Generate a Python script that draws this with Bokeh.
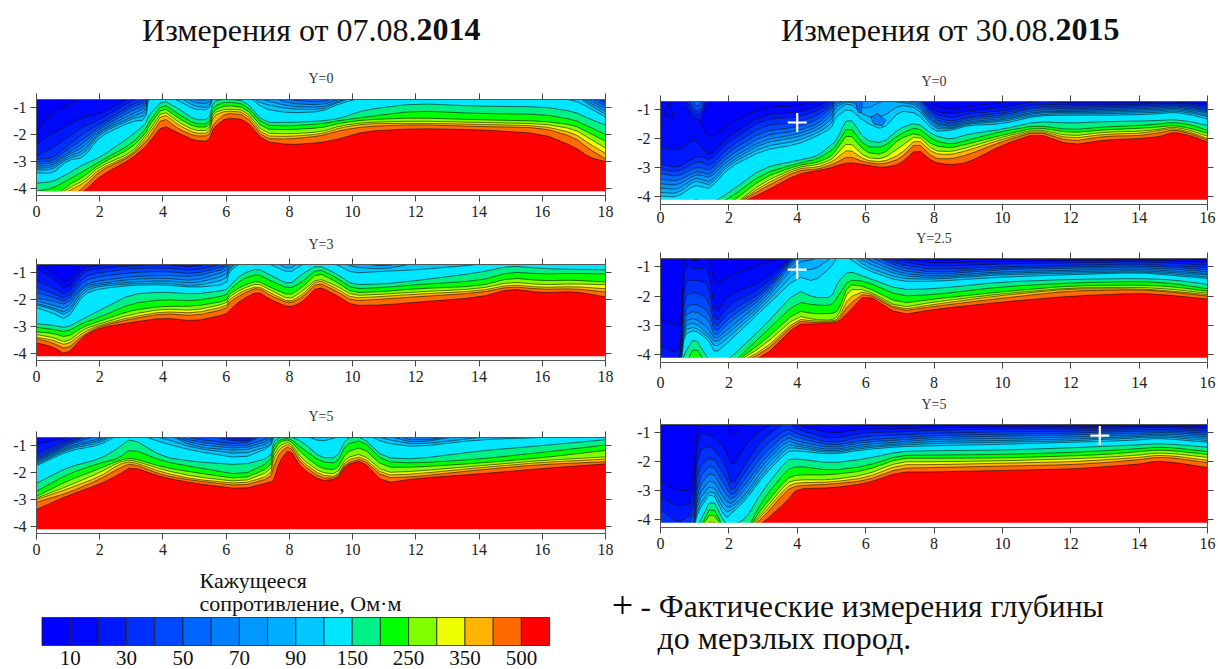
import numpy as np
from bokeh.embed import file_html
from bokeh.resources import INLINE
from bokeh.plotting import figure
from bokeh.layouts import column, row
from bokeh.models import Range1d, LinearAxis, FixedTicker
from bokeh.core.properties import value

LEVELS = [10, 20, 30, 40, 50, 60, 70, 80, 90, 100, 150, 200, 250, 300, 350, 400, 500]
COLORS = ["#0000ff", "#0008fb", "#0018ff", "#0030ff", "#0048ff", "#0064ff", "#0080ff", "#0098ff", "#00aeff",
          "#00c8ff", "#00e6ff", "#00f088", "#00ff00", "#80ff00", "#f0ff00", "#ffb400", "#ff6a00", "#ff0000"]
LEGEND_TICKS = [10, 30, 50, 70, 90, 150, 250, 350, 500]
SERIF = "Liberation Serif"

# depth of each contour level (same order as LEVELS) at each x knot; short rows continue below the section
L0_X = [0, .5, 1, 1.5, 2, 3, 3.45, 3.55, 4, 4.5, 5, 5.45, 5.6, 6, 6.6, 7.2, 8, 9, 9.6, 10.4, 12, 14, 16, 17, 17.5, 18]
L0_Z = [
 [1.9,2.35,2.8,2.92,3.02,3.1,3.18,3.25,3.32,3.42,3.8,4.1],
 [1.15,1.98,2.5,2.88,2.98,3.06,3.14,3.22,3.3,3.45,3.75,4.0],
 [.9,1.65,2.1,2.4,2.55,2.68,2.75,2.82,2.88,2.95,3.45,3.68,3.88,4.0,4.1],
 [.6,1.35,1.7,1.95,2.15,2.3,2.45,2.6,2.72,2.85,3.1,3.35,3.55,3.7,3.8,3.95,4.12],
 [.5,1.25,1.45,1.6,1.7,1.78,1.85,1.9,1.97,2.07,2.85,3.0,3.1,3.18,3.27,3.35,3.55],
 [.5,.6,.75,.9,1.0,1.12,1.25,1.35,1.42,1.52,2.05,2.35,2.5,2.68,2.75,2.8,2.9],
 [.5,.5,.6,.7,.8,.9,1.0,1.15,1.3,1.45,1.6,1.8,1.95,2.05,2.15,2.27,2.45],
 [.5,.5,.5,.5,.5,.5,.5,.5,.5,.62,1.3,1.55,1.7,1.88,2.0,2.15,2.3],
 [.5,.5,.5,.5,.5,.5,.5,.5,.5,.5,.72,.85,.98,1.1,1.2,1.35,1.65],
 [.5,.5,.5,.5,.5,.5,.5,.5,.6,.75,1.05,1.25,1.4,1.55,1.65,1.8,1.95],
 [.5,.5,.5,.5,.5,.6,.72,.82,.95,1.07,1.45,1.6,1.72,1.85,1.95,2.05,2.22],
 [.5,.5,.5,.5,.5,.6,.72,.85,1.0,1.08,1.45,1.6,1.72,1.85,1.95,2.05,2.25],
 [.5,.5,.5,.5,.5,.5,.5,.5,.5,.6,.75,.95,1.1,1.2,1.3,1.6,1.75],
 [.5,.5,.5,.5,.5,.5,.5,.5,.5,.5,.68,.78,.92,1.05,1.12,1.2,1.38],
 [.5,.5,.5,.5,.5,.5,.5,.5,.5,.5,.75,.88,1.0,1.1,1.18,1.28,1.45],
 [.5,.5,.5,.5,.5,.5,.5,.72,.88,1.05,1.55,1.65,1.8,1.95,2.05,2.15,2.25],
 [.5,.5,.5,.5,.5,.72,.85,.95,1.05,1.2,1.55,1.68,1.82,1.98,2.07,2.17,2.38],
 [.5,.5,.5,.5,.7,.8,.9,1.0,1.08,1.15,1.5,1.6,1.75,1.9,1.98,2.05,2.3],
 [.5,.5,.5,.5,.5,.6,.68,.74,.78,.85,1.4,1.48,1.58,1.68,1.75,1.85,2.15],
 [.5,.5,.5,.5,.5,.5,.5,.5,.5,.6,1.08,1.35,1.45,1.55,1.6,1.7,1.88],
 [.5,.5,.5,.5,.5,.5,.5,.5,.5,.6,.85,1.12,1.38,1.5,1.58,1.63,1.78],
 [.5,.5,.5,.5,.5,.5,.5,.5,.5,.6,.95,1.22,1.45,1.55,1.62,1.7,1.82],
 [.5,.5,.5,.5,.5,.5,.5,.5,.5,.6,.97,1.25,1.5,1.6,1.68,1.75,1.97],
 [.5,.5,.5,.5,.5,.5,.5,.5,.5,.72,1.15,1.45,1.65,1.8,1.95,2.1,2.45],
 [.5,.5,.5,.5,.5,.62,.72,.82,.9,1.02,1.42,1.72,1.95,2.15,2.35,2.55,2.85],
 [.5,.5,.5,.75,.85,.95,1.05,1.15,1.25,1.35,1.65,2.0,2.25,2.5,2.7,2.9,3.0],
]

L1_X = [0, .5, .95, 1.5, 2, 3, 4, 5, 6, 6.1, 6.5, 7, 7.4, 8, 8.4, 8.9, 9.5, 10, 11, 12, 14, 15, 16, 17, 18]
L1_Z = [
 [.6,.85,1.3,1.55,1.75,1.95,2.05,2.15,2.2,2.3,2.9,3.03,3.2,3.3,3.4,3.45,3.6],
 [.95,1.2,1.55,1.75,1.9,2.05,2.2,2.3,2.35,2.5,2.95,3.1,3.25,3.4,3.5,3.6,3.75],
 [1.45,1.65,1.85,2.0,2.1,2.2,2.35,2.5,2.6,2.75,3.05,3.2,3.4,3.6,3.7,3.85,4.05],
 [.55,.8,.95,1.15,1.3,1.45,1.5,1.6,1.7,1.8,2.7,2.85,3.0,3.1,3.2,3.3,3.35],
 [.5,.72,.85,1.0,1.15,1.3,1.4,1.45,1.5,1.6,2.4,2.65,2.8,2.9,2.95,3.0,3.05],
 [.5,.5,.75,.85,1.0,1.15,1.25,1.35,1.42,1.47,1.8,2.15,2.4,2.55,2.65,2.72,2.85],
 [.5,.5,.7,.82,.95,1.1,1.2,1.3,1.38,1.45,1.72,2.0,2.25,2.35,2.45,2.52,2.68],
 [.5,.72,.8,.92,1.05,1.15,1.3,1.4,1.5,1.55,1.8,2.05,2.25,2.4,2.5,2.6,2.8],
 [.5,.5,.5,.65,.75,.85,.95,1.1,1.25,1.45,1.65,1.85,2.05,2.15,2.25,2.35,2.55],
 [.5,.5,.5,.5,.5,.5,.7,.8,.85,.95,1.5,1.65,1.8,1.9,2.0,2.1,2.4],
 [.5,.5,.5,.5,.5,.5,.5,.5,.5,.6,1.05,1.25,1.5,1.6,1.7,1.8,2.0],
 [.5,.5,.5,.5,.5,.5,.5,.5,.5,.5,.85,1.05,1.3,1.4,1.5,1.55,1.7],
 [.5,.5,.5,.5,.5,.5,.5,.5,.5,.7,1.1,1.3,1.55,1.65,1.75,1.85,2.0],
 [.5,.5,.5,.5,.5,.5,.6,.75,.9,1.02,1.45,1.6,1.85,2.0,2.1,2.15,2.3],
 [.5,.5,.5,.5,.5,.5,.5,.5,.5,.7,1.05,1.35,1.55,1.7,1.82,1.92,2.1],
 [.5,.5,.5,.5,.5,.5,.5,.5,.5,.5,.72,.85,1.0,1.2,1.25,1.35,1.5],
 [.5,.5,.5,.5,.5,.5,.5,.5,.5,.7,1.05,1.2,1.35,1.5,1.6,1.7,1.85],
 [.5,.5,.5,.5,.5,.5,.5,.6,.8,1.02,1.45,1.6,1.75,1.85,1.95,2.05,2.22],
 [.5,.5,.5,.5,.5,.6,.7,.78,.87,.95,1.42,1.55,1.7,1.8,1.88,1.98,2.2],
 [.5,.5,.5,.5,.5,.5,.5,.5,.65,.9,1.3,1.45,1.6,1.72,1.8,1.9,2.1],
 [.5,.5,.5,.5,.5,.5,.5,.5,.5,.7,1.0,1.3,1.5,1.6,1.68,1.75,1.92],
 [.5,.5,.5,.5,.5,.5,.5,.5,.5,.55,.75,.98,1.2,1.35,1.45,1.52,1.6],
 [.5,.5,.5,.5,.5,.5,.5,.5,.5,.55,.85,1.05,1.3,1.45,1.55,1.62,1.75],
 [.5,.5,.5,.5,.5,.5,.5,.5,.5,.55,.88,1.03,1.28,1.42,1.52,1.6,1.7],
 [.5,.5,.5,.5,.5,.5,.5,.5,.5,.6,.9,1.05,1.35,1.45,1.6,1.72,1.9],
]

L2_X = [0, 1, 2, 2.6, 3, 4, 5, 6.5, 7.4, 7.5, 7.7, 8, 8.4, 9, 9.5, 9.8, 10.3, 11, 12, 14, 16, 18]
L2_Z = [
 [.6,.95,1.3,1.42,1.5,1.55,1.6,1.65,1.7,1.75,2.4,2.7,2.88,2.95,3.0,3.1,3.37],
 [.5,.7,.78,.85,.92,.97,1.03,1.08,1.13,1.2,1.8,2.05,2.3,2.5,2.6,2.75,2.85],
 [.5,.5,.5,.5,.5,.6,.75,.82,.9,.98,1.5,1.65,1.85,2.0,2.15,2.25,2.43],
 [.5,.5,.5,.5,.5,.5,.5,.5,.5,.6,1.08,1.47,1.55,1.62,1.7,1.85,2.08],
 [.5,.5,.5,.5,.5,.5,.5,.5,.5,.5,.72,1.12,1.45,1.52,1.58,1.65,1.78],
 [.5,.5,.5,.5,.5,.5,.5,.5,.72,.9,1.42,1.58,1.8,1.9,2.0,2.1,2.18],
 [.5,.5,.5,.5,.75,.85,.95,1.05,1.1,1.2,1.6,1.8,2.0,2.15,2.25,2.3,2.4],
 [.5,.72,.82,.9,.97,1.05,1.12,1.2,1.32,1.48,1.72,2.1,2.25,2.35,2.42,2.5,2.62],
 [.5,.5,.5,.5,.5,.7,.8,.9,1.0,1.05,1.45,1.6,1.8,1.95,2.1,2.2,2.35],
 [.5,.5,.5,.5,.5,.5,.5,.5,.6,.72,.85,1.0,1.2,1.35,1.5,1.8,2.3],
 [.5,.5,.5,.5,.5,.5,.5,.5,.5,.6,.7,.78,.85,1.0,1.1,1.25,1.55],
 [.5,.5,.5,.5,.5,.5,.5,.5,.5,.55,.65,.72,.78,.85,.92,1.0,1.12],
 [.5,.5,.5,.5,.5,.5,.5,.5,.5,.6,.85,1.1,1.3,1.5,1.6,1.7,1.85],
 [.5,.5,.5,.5,.5,.5,.5,.5,.72,.85,1.45,1.6,1.85,2.0,2.1,2.2,2.3],
 [.5,.5,.5,.5,.5,.5,.5,.5,.5,.7,1.45,1.65,1.9,2.05,2.15,2.2,2.25],
 [.5,.5,.5,.5,.5,.5,.5,.5,.5,.5,.72,.95,1.25,1.45,1.55,1.65,1.72],
 [.5,.5,.5,.5,.5,.5,.5,.5,.5,.5,.68,.8,1.05,1.3,1.4,1.48,1.55],
 [.5,.5,.5,.5,.5,.5,.5,.6,.75,.9,1.45,1.6,1.8,2.0,2.1,2.2,2.4],
 [.5,.5,.5,.5,.7,.75,.85,.92,.97,1.05,1.5,1.65,1.8,1.95,2.05,2.15,2.22],
 [.5,.5,.5,.5,.5,.5,.5,.5,.7,.78,1.2,1.5,1.65,1.75,1.82,1.9,2.05],
 [.5,.5,.5,.5,.5,.5,.5,.5,.5,.7,1.0,1.25,1.45,1.55,1.62,1.7,1.85],
 [.5,.5,.5,.5,.5,.5,.5,.5,.5,.6,.78,.98,1.18,1.42,1.5,1.6,1.68],
]

R0_X = [0, .5, 1, 1.2, 1.45, 2, 3, 4, 4.6, 5, 5.1, 5.5, 6, 6.5, 7, 7.5, 8, 8.5, 9, 10, 11, 12, 13, 14, 14.6, 15, 15.5, 16]
R0_Z = [
 [.5,2.3,2.88,3.05,3.2,3.4,3.55,3.7,3.85,3.97],
 [.5,2.42,3.0,3.15,3.3,3.45,3.6,3.75,3.88,4.0],
 [.5,2.0,2.65,2.82,3.0,3.15,3.25,3.35,3.45,3.6,4.08],
 [1.6,2.3,2.62,2.8,3.0,3.15,3.25,3.4,3.5,3.65,4.15],
 [2.0,2.6,2.75,2.95,3.1,3.25,3.35,3.5,3.6,3.72,4.25],
 [1.5,1.9,2.1,2.3,2.45,2.6,2.72,2.82,2.9,3.0,3.85,4.05,4.25],
 [.93,1.2,1.35,1.55,1.75,1.9,2.05,2.15,2.28,2.4,3.0,3.2,3.35,3.5,3.6,3.7,3.85],
 [.88,1.1,1.27,1.45,1.6,1.73,1.85,1.95,2.08,2.2,2.75,2.85,2.92,2.98,3.03,3.1,3.22],
 [.7,.9,1.05,1.2,1.35,1.5,1.6,1.7,1.8,1.9,2.6,2.7,2.82,2.9,2.98,3.05,3.1],
 [.5,.65,.75,.85,.95,1.05,1.2,1.35,1.5,1.65,2.2,2.4,2.6,2.72,2.8,2.9,3.0],
 [.5,.5,.55,.6,.7,.75,.85,.95,1.1,1.3,2.15,2.3,2.45,2.6,2.72,2.85,2.95],
 [.5,.5,.5,.5,.55,.6,.65,.7,.75,.95,1.22,1.55,1.8,2.1,2.35,2.6,2.82],
 [.5,.5,.5,.5,.5,.5,.5,1.0,1.25,1.45,2.07,2.28,2.47,2.65,2.75,2.82,2.9],
 [.5,.5,.5,.5,.5,.5,.5,.7,1.25,1.7,2.15,2.3,2.55,2.7,2.8,2.88,3.0],
 [.5,.5,.5,.5,.5,.5,.7,.75,.85,1.05,1.65,1.85,2.0,2.3,2.55,2.7,2.88],
 [.5,.5,.5,.5,.6,.7,.78,.85,.95,1.13,1.45,1.6,1.8,1.87,2.0,2.12,2.35],
 [.85,1.05,1.15,1.25,1.35,1.45,1.5,1.58,1.65,1.75,1.9,2.07,2.25,2.42,2.52,2.68,2.82],
 [1.0,1.15,1.3,1.42,1.5,1.56,1.6,1.65,1.68,1.72,2.03,2.2,2.32,2.45,2.55,2.7,2.9],
 [.9,1.05,1.15,1.25,1.3,1.36,1.42,1.46,1.5,1.55,1.85,2.05,2.18,2.3,2.4,2.55,2.82],
 [.75,.93,1.05,1.13,1.2,1.26,1.32,1.37,1.42,1.5,1.68,1.75,1.88,1.95,2.02,2.1,2.22],
 [.6,.72,.82,.9,.95,1.02,1.08,1.12,1.18,1.22,1.42,1.55,1.62,1.68,1.72,1.75,1.82],
 [.7,.78,.85,.92,.98,1.03,1.07,1.1,1.15,1.2,1.47,1.7,1.8,1.92,2.0,2.1,2.22],
 [.7,.78,.85,.9,.95,1.0,1.05,1.1,1.15,1.2,1.42,1.6,1.7,1.78,1.85,1.92,2.05],
 [.7,.78,.83,.88,.93,.98,1.02,1.07,1.12,1.18,1.4,1.55,1.65,1.75,1.82,1.9,2.0],
 [.68,.75,.8,.85,.9,.95,1.0,1.05,1.1,1.15,1.38,1.5,1.6,1.68,1.72,1.8,1.93],
 [.7,.75,.8,.85,.88,.92,.96,1.0,1.05,1.1,1.35,1.45,1.55,1.6,1.65,1.7,1.78],
 [.72,.78,.82,.87,.92,.97,1.02,1.07,1.12,1.18,1.42,1.52,1.65,1.72,1.78,1.83,1.9],
 [.75,.82,.9,.97,1.03,1.08,1.13,1.2,1.25,1.33,1.55,1.72,1.82,1.92,2.0,2.05,2.12],
]

R1_X = [0, .5, .6, .7, 1, 1.4, 1.6, 2, 3, 4, 4.5, 5, 5.2, 5.5, 6, 7, 8, 10, 12, 14, 15, 16]
R1_Z = [
 [2.8,3.7],
 [3.0,3.95],
 [3.0,3.6,3.8,3.9,4.0,4.1],
 [.5,.9,1.5,2.0,2.4,2.65,2.85,3.0,3.15,3.3,3.95],
 [.85,1.1,1.45,1.85,2.25,2.5,2.75,2.9,3.05,3.15,3.4,3.7,4.1],
 [.55,1.0,1.55,2.1,2.5,2.8,3.1,3.3,3.4,3.5,4.15],
 [1.65,2.65,2.95,3.1,3.27,3.4,3.5,3.6,3.75,3.95],
 [1.3,1.95,2.3,2.55,2.75,2.9,3.1,3.25,3.4,3.55,4.15],
 [.9,1.5,1.7,1.85,1.95,2.05,2.15,2.25,2.35,2.45,3.05,3.3,3.55,3.7,3.85,3.95,4.1],
 [.5,.5,.5,.5,.55,.6,.7,.85,1.1,1.33,1.8,2.2,2.5,2.67,2.78,2.85,2.95],
 [.5,.5,.5,.5,.5,.5,.5,.75,1.1,1.5,2.05,2.3,2.6,2.8,2.85,2.9,2.95],
 [.5,.5,.5,.5,.5,.5,.5,.5,.7,1.0,2.05,2.32,2.6,2.82,2.85,2.88,2.92],
 [.5,.5,.5,.5,.5,.5,.5,.5,.5,.6,1.5,2.0,2.5,2.68,2.78,2.83,2.88],
 [.5,.5,.5,.5,.5,.5,.5,.5,.5,.7,1.15,1.45,1.6,1.78,2.05,2.3,2.55],
 [.5,.5,.5,.5,.5,.6,.72,.85,1.0,1.1,1.35,1.5,1.68,1.78,1.82,1.87,1.92],
 [.5,.72,.82,.92,1.02,1.12,1.22,1.3,1.4,1.5,1.78,2.0,2.25,2.4,2.47,2.52,2.65],
 [.77,.88,1.0,1.1,1.2,1.27,1.33,1.38,1.43,1.5,1.75,1.95,2.1,2.2,2.28,2.35,2.45],
 [.73,.82,.9,1.0,1.05,1.1,1.17,1.22,1.27,1.35,1.52,1.68,1.85,1.92,1.97,2.07,2.2],
 [.73,.8,.87,.95,1.0,1.05,1.12,1.17,1.22,1.27,1.43,1.55,1.65,1.72,1.75,1.82,2.0],
 [.73,.77,.83,.9,.97,1.03,1.08,1.13,1.17,1.2,1.4,1.5,1.62,1.7,1.75,1.78,1.9],
 [.73,.8,.88,.97,1.02,1.08,1.15,1.2,1.25,1.3,1.45,1.57,1.68,1.77,1.83,1.87,1.98],
 [.77,.85,.95,1.03,1.1,1.17,1.23,1.28,1.35,1.4,1.6,1.75,1.83,1.9,1.95,2.0,2.1],
]

R2_X = [0, .5, .95, 1.1, 1.5, 1.9, 2.1, 2.5, 3, 3.7, 4, 5, 6, 7, 8, 10, 12, 13, 14, 14.5, 15, 16]
R2_Z = [
 [2.65,3.2,3.65],
 [3.0,3.55,4.1],
 [2.95,3.42,3.8,4.05],
 [.5,1.0,1.6,2.2,2.6,2.9,3.15,3.35,3.55,3.7,4.2],
 [.75,1.1,1.45,1.8,2.05,2.3,2.55,2.75,2.9,3.0,3.23,3.48,3.72,4.0],
 [.6,1.55,2.1,2.5,2.85,3.1,3.35,3.55,3.75,3.95,4.15],
 [1.15,2.2,2.85,3.05,3.2,3.32,3.45,3.55,3.65,3.75,4.2],
 [.6,1.4,2.05,2.3,2.55,2.75,2.9,3.1,3.2,3.3,3.95],
 [.55,.85,1.2,1.5,1.75,1.95,2.1,2.25,2.4,2.5,2.97,3.3,3.55,3.7,3.8,3.92,4.1],
 [.5,.5,.6,.85,1.0,1.15,1.27,1.4,1.52,1.65,1.93,2.28,2.57,2.72,2.85,2.97,3.35],
 [.5,.75,.9,1.05,1.17,1.3,1.4,1.47,1.53,1.62,1.9,2.15,2.45,2.62,2.72,2.82,2.92],
 [.72,1.03,1.22,1.37,1.45,1.53,1.6,1.65,1.7,1.75,2.05,2.3,2.45,2.62,2.7,2.77,2.9],
 [.75,.87,1.0,1.12,1.25,1.32,1.4,1.47,1.52,1.58,1.9,2.15,2.3,2.45,2.55,2.65,2.75],
 [.77,.87,.97,1.08,1.18,1.25,1.32,1.38,1.43,1.48,1.65,1.78,1.88,2.0,2.1,2.22,2.35],
 [.75,.83,.92,1.02,1.1,1.17,1.23,1.3,1.37,1.45,1.62,1.77,1.88,2.0,2.1,2.2,2.35],
 [.73,.8,.88,.97,1.05,1.12,1.2,1.27,1.33,1.4,1.6,1.75,1.87,1.97,2.05,2.15,2.3],
 [.73,.8,.87,.95,1.02,1.08,1.15,1.22,1.28,1.33,1.52,1.68,1.8,1.9,2.0,2.1,2.25],
 [.73,.78,.85,.92,.98,1.05,1.12,1.18,1.23,1.3,1.47,1.62,1.75,1.85,1.93,2.03,2.17],
 [.73,.78,.84,.9,.96,1.02,1.08,1.13,1.18,1.25,1.42,1.55,1.65,1.77,1.85,1.93,2.08],
 [.73,.78,.83,.89,.94,1.0,1.05,1.1,1.15,1.2,1.38,1.5,1.6,1.7,1.78,1.85,1.98],
 [.73,.78,.83,.9,.95,1.0,1.06,1.12,1.17,1.23,1.4,1.52,1.62,1.72,1.8,1.87,2.02],
 [.75,.82,.88,.95,1.02,1.08,1.14,1.2,1.27,1.33,1.5,1.65,1.75,1.85,1.95,2.03,2.2],
]

# closed pockets in the 2015 Y=0 section: colour band, x, depth
R0_POCKETS = [
 (1, [.1, .27, .37], [1.16, .73, 1.27]),
 (2, [.68, .83, .93, 1.17, 1.27, 1.39], [.73, 1.05, 1.27, 1.37, 1.05, .73]),
 (3, [.78, .9, 1.02, 1.17, 1.25, 1.32], [.73, 1.0, 1.16, 1.16, .94, .73]),
 (4, [.86, .98, 1.09, 1.22, 1.27], [.73, 1.0, 1.07, .94, .73]),
 (5, [.96, 1.02, 1.15, 1.2], [.73, .87, .87, .73]),
 (5, [5.7, 5.78, 5.88, 5.9], [.73, 1.1, 1.1, .73]),
 (6, [6.15, 6.34, 6.59, 6.49, 6.24], [1.27, 1.14, 1.37, 1.56, 1.5]),
]

# measured depths to frozen ground
R0_MEAS = (4, 1.45)
R1_MEAS = (4, 1.1)
R2_MEAS = (12.85, 1.1)


def rounded(x, y):
    """One corner-cutting pass, so the polylines read as the soft contours of the original."""
    qx, qy = [x[0]], [y[0]]
    for i in range(len(x) - 1):
        qx += [0.8 * x[i] + 0.2 * x[i + 1], 0.2 * x[i] + 0.8 * x[i + 1]]
        qy += [0.8 * y[i] + 0.2 * y[i + 1], 0.2 * y[i] + 0.8 * y[i + 1]]
    qx.append(x[-1])
    qy.append(y[-1])
    return np.array(qx), np.array(qy)


def panel(title, xs, rows, xmax, top, height, bt, bb, ml, fw, mr, pockets=(), meas=None, standoff=14, xstand=4, lift=0):
    p = figure(width=ml + fw + mr, height=height, output_backend="svg", toolbar_location=None,
               x_range=Range1d(0, xmax), y_range=Range1d(-4.26, top),
               min_border_left=ml, min_border_right=mr, min_border_top=bt, min_border_bottom=bb,
               x_axis_location=None, y_axis_location=None, outline_line_color=None,
               background_fill_color="white", border_fill_color=None, margin=(-lift, 0, 0, 0))
    p.grid.visible = False
    p.title.text = title
    p.title.align = "center"
    p.title.text_font = SERIF
    p.title.text_font_size = "14px"
    p.title.text_font_style = "normal"
    p.title.text_color = "#333333"
    p.title.standoff = standoff

    z = np.array([r + [4.4] * (17 - len(r)) for r in rows], dtype=float).T
    x = [float(v) for v in xs]
    p.quad(left=0, right=xmax, top=top, bottom=-4.26, fill_color=COLORS[0], line_color=None)
    for k in range(17):
        sx, sy = rounded(x, [-float(v) for v in z[k]])
        p.varea(x=sx, y1=sy, y2=np.full(len(sx), -6.0), fill_color=COLORS[k + 1])
        p.line(sx, sy, line_color="#101010", line_width=0.7, line_alpha=0.85)
    for band, px, pz in pockets:
        p.patch(px, [-d for d in pz], fill_color=COLORS[band], line_color="#101010", line_width=0.7, line_alpha=0.85)
    p.quad(left=0, right=xmax, top=-4.1, bottom=-4.26, fill_color="white", line_color=None)
    if meas:
        p.scatter([meas[0]], [-meas[1]], marker="cross", size=19, line_color="white", line_width=2.2)

    xt = list(range(0, xmax + 1, 2))
    yt = [-1, -2, -3, -4]
    for side, ticks in (("below", xt), ("above", xt), ("left", yt), ("right", yt)):
        ax = LinearAxis(ticker=FixedTicker(ticks=ticks))
        ax.axis_line_color = "#555555"
        ax.major_tick_line_color = "#444444"
        ax.major_tick_in = 0
        ax.major_tick_out = 6
        ax.minor_tick_line_color = None
        ax.major_label_text_font = SERIF
        ax.major_label_text_color = "#222222"
        if side in ("below", "left"):
            ax.major_label_text_font_size = "16px"
            ax.major_label_standoff = xstand if side == "below" else 4
            ax.major_label_overrides = {t: str(t) for t in ticks}
        else:
            ax.major_label_text_font_size = "0px"
            ax.major_label_standoff = 0
            ax.major_label_overrides = {t: "" for t in ticks}
        p.add_layout(ax, side)
    return p


def blank(width, height, x0, y0):
    p = figure(width=width, height=height, output_backend="svg", toolbar_location=None,
               x_range=Range1d(x0, x0 + width), y_range=Range1d(y0 + height, y0),
               x_axis_location=None, y_axis_location=None, outline_line_color=None,
               min_border=0, border_fill_color=None)
    p.grid.visible = False
    return p


def put(p, x, y, s, size, style="normal", align="left", color="#111111"):
    p.text([x], [y], text=[s], text_font=value(SERIF), text_font_size=value(size), text_font_style=style,
           text_align=align, text_baseline="middle", text_color=color)


header = blank(1218, 58, 0, 0)
put(header, 416, 29, "Измерения от 07.08.", "32px", align="right")
put(header, 416, 29, "2014", "32px", style="bold")
put(header, 1055, 29, "Измерения от 30.08.", "32px", align="right")
put(header, 1055, 29, "2015", "32px", style="bold")

LW, RW = 569, 547
l0 = panel("Y=0", L0_X, L0_Z, 18, -0.7, 167, 41, 30, 36, LW, 15, standoff=15)
l1 = panel("Y=3", L1_X, L1_Z, 18, -0.7, 170, 39, 35, 36, LW, 15)
l2 = panel("Y=5", L2_X, L2_Z, 18, -0.7, 170, 42, 32, 36, LW, 15, standoff=15)
r0 = panel("Y=0", R0_X, R0_Z, 16, -0.73, 170, 43, 24, 40, RW, 11, pockets=R0_POCKETS, meas=R0_MEAS, xstand=1)
r1 = panel("Y=2.5", R1_X, R1_Z, 16, -0.72, 176, 38, 34, 40, RW, 11, meas=R1_MEAS, xstand=8, lift=8)
r2 = panel("Y=5", R2_X, R2_Z, 16, -0.72, 179, 38, 38, 40, RW, 11, meas=R2_MEAS, lift=10)

# footer: colour scale and note share one figure, in page pixels
footer = blank(1218, 104, 0, 565)
CELL = 28.2
SCALE_X0 = 41.5
lefts = [SCALE_X0 + i * CELL for i in range(18)]
footer.quad(left=lefts, right=[v + CELL for v in lefts], top=617, bottom=645, fill_color=COLORS,
            line_color="#222222", line_width=0.8)
for i, lv in enumerate(LEVELS):
    if lv in LEGEND_TICKS:
        put(footer, SCALE_X0 + (i + 1) * CELL, 657, str(lv), "21px", align="center")
put(footer, 199, 580, "Кажущееся", "22px")
put(footer, 199, 603, "сопротивление, Ом·м", "22px")
put(footer, 622, 605, "+", "38px", align="center", color="#000000")
put(footer, 640, 606, "- Фактические измерения глубины", "31.5px")
put(footer, 657, 637, "до мерзлых пород.", "32px")

root = column(header, row(column(l0, l1, l2), column(r0, r1, r2)), footer)
open("out.html", "w").write(file_html(root, INLINE))
